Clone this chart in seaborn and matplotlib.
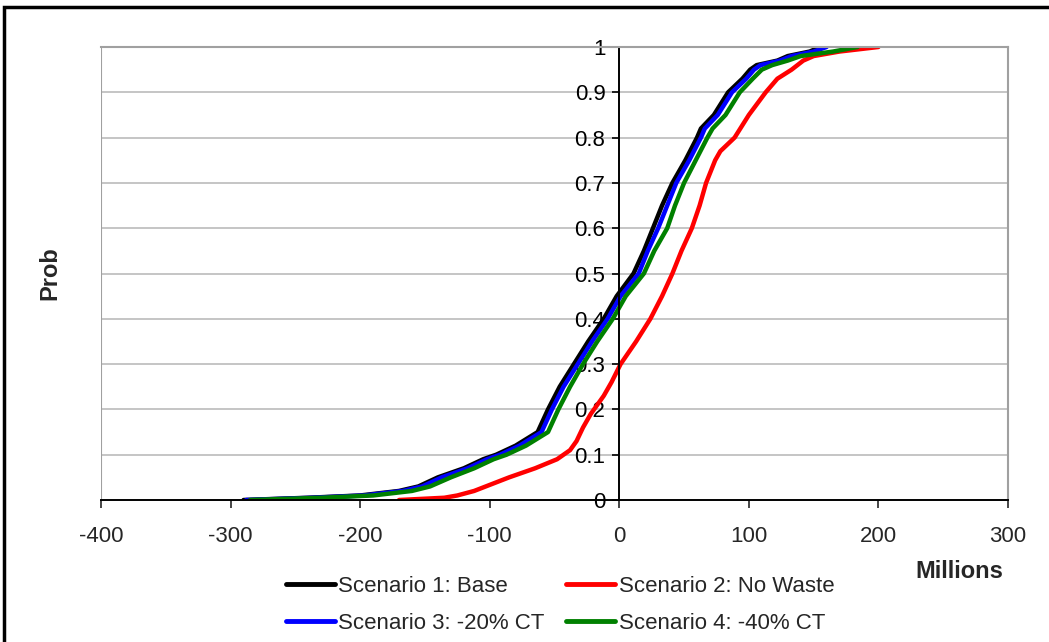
import matplotlib
matplotlib.use("Agg")
import matplotlib.pyplot as plt
from matplotlib.patches import Rectangle
import pandas as pd
import seaborn as sns

# values (x in millions, y = cumulative probability)
base_p = [0, 0.005, 0.01, 0.02, 0.03, 0.05, 0.07, 0.09, 0.1, 0.12, 0.15, 0.2, 0.25, 0.3, 0.35,
          0.4, 0.45, 0.5, 0.55, 0.6, 0.65, 0.7, 0.75, 0.8, 0.82, 0.85, 0.9, 0.93, 0.95, 0.96,
          0.97, 0.98, 0.99, 1.0]
base_x = [-290, -240, -200, -170, -155, -140, -120, -105, -95, -80, -63, -55, -46, -35, -24,
          -12, -2, 11, 19, 26, 33, 41, 51, 60, 63, 73, 84, 95, 101, 106, 122, 130, 147, 155]
blue_x = [-288, -236, -197, -167, -152, -137, -117, -102, -92, -77, -60, -52, -43, -32, -21,
          -9, 1, 15, 22, 30, 37, 44, 54, 63, 66, 76, 87, 98, 104, 109, 124, 133, 150, 160]
green_x = [-285, -230, -190, -160, -146, -130, -112, -97, -87, -72, -55, -47, -38, -28, -17,
           -5, 5, 19, 27, 37, 43, 50, 59, 68, 72, 82, 93, 103, 110, 118, 130, 140, 165, 184]
red_p = [0, 0.005, 0.01, 0.02, 0.03, 0.05, 0.07, 0.09, 0.11, 0.13, 0.16, 0.19, 0.23, 0.26,
         0.3, 0.35, 0.4, 0.45, 0.5, 0.55, 0.6, 0.65, 0.7, 0.75, 0.77, 0.8, 0.85, 0.9, 0.93,
         0.95, 0.97, 0.98, 0.99, 1.0]
red_x = [-170, -135, -125, -112, -103, -85, -65, -48, -38, -33, -28, -22, -12, -6,
         1, 13, 24, 33, 41, 48, 56, 62, 67, 74, 78, 89, 100, 113, 122, 133, 142, 150, 170, 200]

names = ["Scenario 1: Base", "Scenario 2: No Waste", "Scenario 3: -20% CT", "Scenario 4: -40% CT"]
colors = ["#000000", "#ff0000", "#0000ff", "#008000"]
x_ticks = [-400, -300, -200, -100, 0, 100, 200, 300]
y_ticks = [0, 0.1, 0.2, 0.3, 0.4, 0.5, 0.6, 0.7, 0.8, 0.9, 1.0]
y_labels = ["0", "0.1", "0.2", "0.3", "0.4", "0.5", "0.6", "0.7", "0.8", "0.9", "1"]

frames = []
for name, xs, ps in [(names[0], base_x, base_p), (names[1], red_x, red_p),
                     (names[2], blue_x, base_p), (names[3], green_x, base_p)]:
    frames.append(pd.DataFrame({"Millions": xs, "Prob": ps, "Scenario": name}))
df = pd.concat(frames, ignore_index=True)

sns.set_style("white")
plt.rcParams["font.family"] = ["Liberation Sans", "DejaVu Sans"]

fig = plt.figure(figsize=(10.49, 6.42), dpi=100)
ax = fig.add_axes([101 / 1049, 1 - 500 / 642, 907 / 1049, 453 / 642])

sns.lineplot(data=df, x="Millions", y="Prob", hue="Scenario", hue_order=names,
             palette=colors, sort=False, linewidth=3.2, ax=ax, estimator=None)

# y axis crosses at x = 0 (set before the ticks, moving the spine resets them)
ax.spines["left"].set_position(("data", 0))
ax.spines["left"].set_color("black")
ax.spines["left"].set_linewidth(1.4)
ax.spines["bottom"].set_color("black")
ax.spines["bottom"].set_linewidth(1.4)
ax.spines["top"].set_color("#a0a0a0")
ax.spines["top"].set_linewidth(1.5)
ax.spines["right"].set_color("#a0a0a0")
ax.spines["right"].set_linewidth(1.5)

ax.set_xlim(-400, 300)
ax.set_ylim(0, 1)
ax.set_xticks(x_ticks)
ax.set_xticklabels([str(t) for t in x_ticks])
ax.set_yticks(y_ticks)
ax.set_yticklabels(y_labels)
for y in y_ticks[1:]:
    ax.axhline(y, color="#c0c0c0", linewidth=1.3, zorder=0)
ax.axvline(-400, color="#a0a0a0", linewidth=1.5, zorder=0)

ax.tick_params(axis="y", direction="out", length=5, width=1.2, pad=5, left=True,
               colors="black", labelsize=16)
ax.tick_params(axis="x", direction="out", length=6, width=1.2, pad=13, bottom=True,
               labelsize=16)
ax.set_xlabel("")
ax.set_ylabel("")

fig.text(50 / 1049, 1 - 273 / 642, "Prob", rotation=90, ha="center", va="center",
         fontsize=17, fontweight="bold")
fig.text(959 / 1049, 1 - 571 / 642, "Millions", ha="center", va="center",
         fontsize=17, fontweight="bold")

handles, labels = ax.get_legend_handles_labels()
ax.get_legend().remove()
order = [0, 2, 1, 3]
leg = fig.legend([handles[i] for i in order], [labels[i] for i in order], ncol=2,
                 loc="center", bbox_to_anchor=(560 / 1049, 1 - 605 / 642), frameon=False,
                 fontsize=16, handlelength=2.2, handletextpad=0.15, columnspacing=1.0,
                 labelspacing=0.7)
for line in leg.get_lines():
    line.set_linewidth(3.5)

# outer chart frame (left and top edges visible in the crop)
fig.patches.append(Rectangle((4 / 1049, -0.1), 1.2, 1 - 7 / 642 + 0.1, transform=fig.transFigure,
                             fill=False, edgecolor="black", linewidth=2.5))

fig.savefig("out.png", dpi=100)
